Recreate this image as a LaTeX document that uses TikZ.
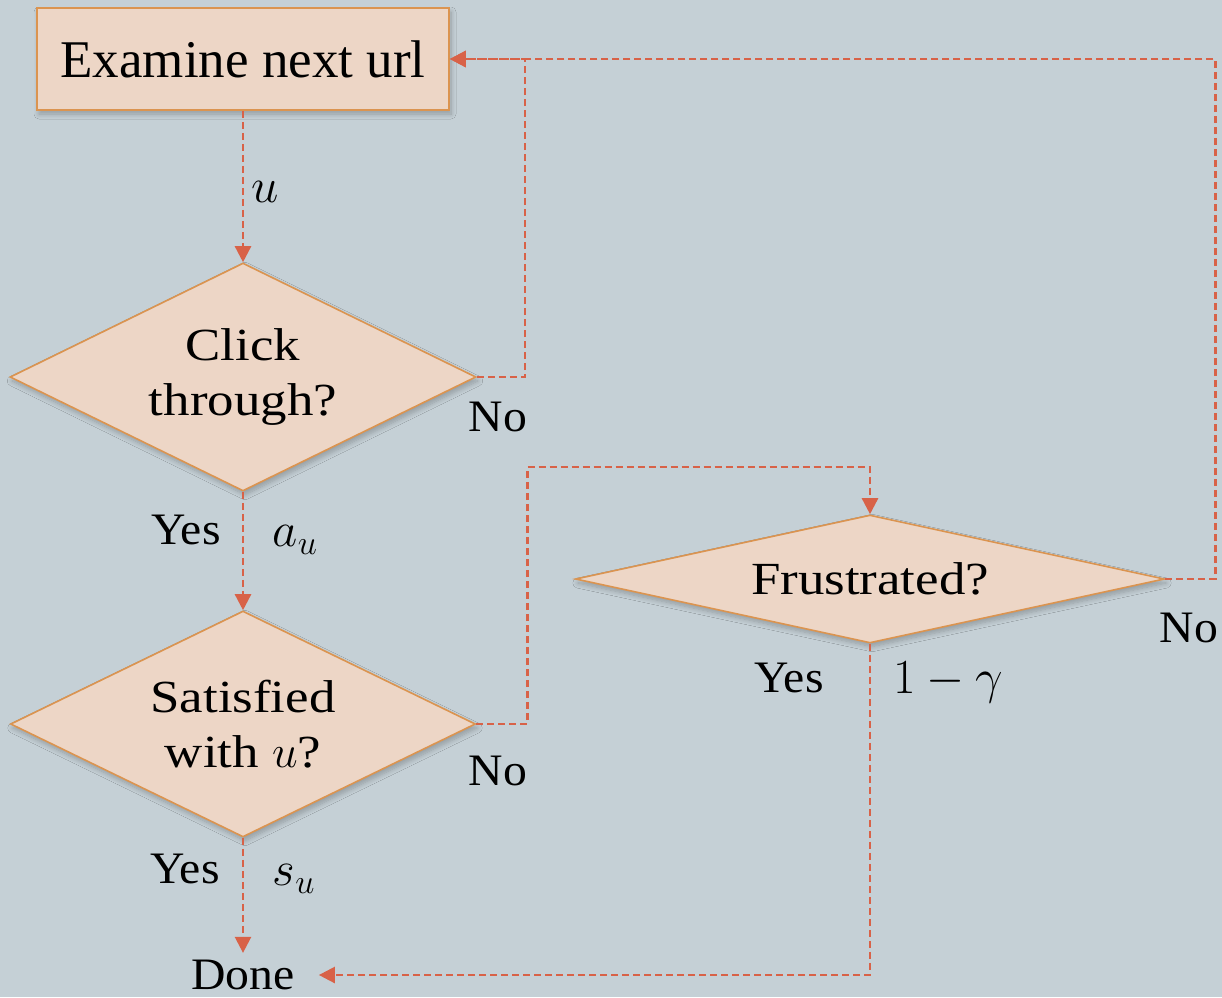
\RequirePackage{fix-cm}
\documentclass[tikz,border=0pt]{standalone}
\usepackage{fontspec}
\setmainfont{Liberation Serif}
\newfontfamily\diafont[FakeStretch=1.15]{Liberation Serif}
\newfontfamily\lblfont[FakeStretch=1.06]{Liberation Serif}
\usetikzlibrary{shapes.geometric,arrows.meta,shadows.blur,calc}
\definecolor{bgcol}{RGB}{197,208,214}
\definecolor{nodefill}{RGB}{237,214,198}
\definecolor{nodeline}{RGB}{219,148,80}
\definecolor{conncol}{RGB}{216,98,72}
\begin{document}
\begin{tikzpicture}[x=1pt,y=-1pt,
  shade/.style={blur shadow={shadow blur steps=8,shadow xshift=2pt,shadow yshift=-4pt,shadow opacity=25,shadow blur radius=5pt}},
  boxnode/.style={draw=nodeline,fill=nodefill,line width=1.6pt,minimum width=412pt,minimum height=102pt,inner sep=0pt,
    font=\fontsize{53}{60}\selectfont,shade},
  dia/.style={diamond,draw=nodeline,fill=nodefill,line width=1.6pt,inner sep=0pt,align=center,
    font=\diafont\fontsize{46}{55}\selectfont,shade},
  lbl/.style={inner sep=0pt,font=\lblfont\fontsize{45}{50}\selectfont},
  mlbl/.style={inner sep=0pt,font=\fontsize{49}{54}\selectfont},
  conn/.style={draw=conncol,line width=2.5pt,dash pattern=on 7pt off 4pt,-{Triangle[length=16pt,width=16pt]}},
]
\fill[bgcol] (0,0) rectangle (1222,997);
\useasboundingbox (0,0) rectangle (1222,997);

\node[boxnode] (box) at (243,59) {Examine next url};
\node[dia,aspect=2.04,minimum width=466pt,minimum height=228pt] (d1) at (243,377) {Click\\through?};
\node[dia,aspect=2.06,minimum width=465pt,minimum height=226pt] (d2) at (243,724) {Satisfied\\with $u$?};
\node[dia,aspect=4.6,minimum width=589pt,minimum height=128pt] (d3) at (870,579) {Frustrated?};
\node[lbl,inner xsep=24pt,inner ysep=7pt] (done) at (243,975) {Done};

% labels
\node[mlbl] (lu) at (265,192) {$u$};
\node[lbl] (y1) at (186,530) {Yes};
\node[mlbl] (lau) at (295,540) {$a_u$};
\node[lbl] (n1) at (498,417) {No};
\node[lbl] (n2) at (498,771) {No};
\node[lbl] (y2) at (185,869) {Yes};
\node[mlbl] (lsu) at (294,879) {$s_u$};
\node[lbl] (n3) at (1189,628) {No};
\node[lbl] (y3) at (789,678) {Yes};
\node[mlbl] (lg) at (948,682) {$1-\gamma$};

% connectors
\draw[conn] (box) -- (d1);
\draw[conn] (d1.east) -- ++(48,0) |- (box.east);
\draw[conn] (d1) -- (d2);
\draw[conn] (d2.east) -- ++(51,0) |- ($(d3.north)+(0,-47)$) -- (d3.north);
\draw[conn] (d3.east) -- ++(50,0) |- (box.east);
\draw[conn] (d3.south) |- (done.east);
\draw[conn] (d2.south) -- (done.north);
\end{tikzpicture}
\end{document}
